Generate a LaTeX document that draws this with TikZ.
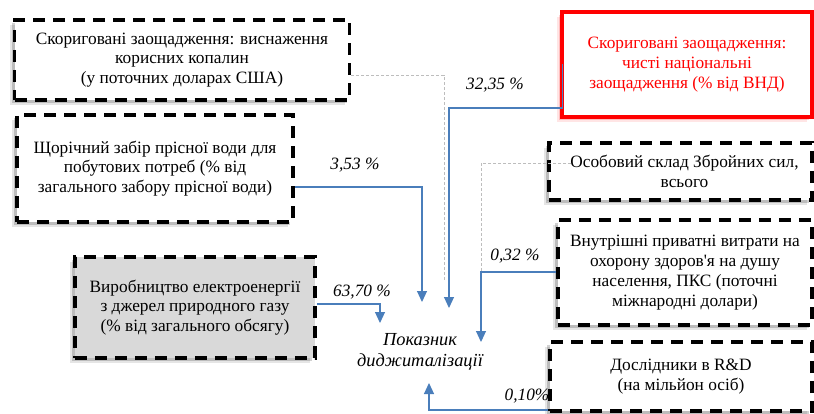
\documentclass[tikz,border=0pt]{standalone}
\usepackage{fontspec}
\setmainfont{Liberation Serif}
\usetikzlibrary{arrows.meta,shadows,calc}
\definecolor{linkblue}{HTML}{4A7EBB}
\definecolor{linkgray}{HTML}{BDBDBD}
\definecolor{boxgray}{HTML}{D9D9D9}
\tikzset{
  softshadow/.style={
    drop shadow={shadow xshift=-5pt, shadow yshift=-5pt, fill=#1, opacity=0.10},
    drop shadow={shadow xshift=-3pt, shadow yshift=-3pt, fill=#1, opacity=0.18}},
  factorbox/.style={draw=black, line width=3.6pt, dash pattern=on 12pt off 8pt,
    fill=white, align=center, inner sep=0pt, text=black,
    font=\fontsize{17.3}{19.8}\selectfont, softshadow=black},
  targetbox/.style={draw=red, line width=3.8pt, fill=white, align=center,
    inner sep=0pt, text=red, font=\fontsize{17.3}{19.8}\selectfont,
    softshadow=red},
  link/.style={draw=linkblue, line width=1.1pt, -{Triangle[width=10pt,length=11pt]}},
  weak/.style={draw=linkgray, line width=0.8pt, dash pattern=on 3pt off 2pt},
  pct/.style={font=\fontsize{17.3}{19.8}\selectfont\itshape, inner sep=0pt}
}
\begin{document}
\begin{tikzpicture}[x=1pt, y=-1pt]
\useasboundingbox (0,0) rectangle (814,414);

% factor boxes
\node[factorbox, minimum width=335pt, minimum height=80pt] (b1) at (182,60)
  {Скориговані заощадження: виснаження\\корисних копалин\\(у поточних доларах США)};
\node[targetbox, minimum width=250pt, minimum height=105pt] (red) at (687,64.5)
  {Скориговані заощадження:\\чисті національні\\заощадження (\% від ВНД)};
\node[factorbox, minimum width=276pt, minimum height=107pt] (b3) at (155,168.5)
  {Щорічний забір прісної води для\\побутових потреб (\% від\\загального забору прісної води)};
\node[factorbox, minimum width=263pt, minimum height=57pt] (b4) at (680.5,171.5)
  {\hspace*{8pt}Особовий склад Збройних сил,\\\hspace*{8pt}всього};
\node[factorbox, minimum width=254pt, minimum height=105pt] (b5) at (685,272.5)
  {Внутрішні приватні витрати на\\охорону здоров\textquotesingle я на душу\\населення, ПКС (поточні\\міжнародні долари)};
\node[factorbox, minimum width=262pt, minimum height=69pt] (b6) at (681,376.5)
  {Дослідники в R\&D\\(на мільйон осіб)};
\node[factorbox, fill=boxgray, minimum width=240pt, minimum height=101pt] (b7) at (195,307.5)
  {Виробництво електроенергії\\з джерел природного газу\\(\% від загального обсягу)};

% central indicator
\node[align=center, font=\fontsize{18.4}{20.5}\selectfont\itshape] (dig) at (420,352)
  {Показник\\диджиталізації};

% end points of the connectors
\coordinate (e1) at (444,282);
\coordinate (e3) at (422,302);
\coordinate (e2) at (449,308);
\coordinate (e4) at (481,300);
\coordinate (e5) at (481,342);
\coordinate (e6) at (429,383);
\coordinate (e7) at (380,323);

% connectors
\draw[weak] (b1.east |- 0,75) -| (e1);
\draw[weak] ([xshift=24pt]b4.west |- 0,163) -| (e4);
\draw[link] (b3.east |- 0,187) -| (e3);
\draw[link] ([xshift=2pt]red.west) -- ([xshift=2pt]red.west |- 0,108) -| (e2);
\draw[link] (b5.west |- 0,272) -| (e5);
\draw[link] (b6.west |- 0,410) -| (e6);
\draw[link] (b7.east |- 0,304) -| (e7);

% weights
\node[pct] (p2) at (495,85) {32,35 \%};
\node[pct] (p3) at (355,165) {3,53 \%};
\node[pct] (p7) at (362,292) {63,70 \%};
\node[pct] (p5) at (515,256) {0,32 \%};
\node[pct] (p6) at (527,396) {0,10\%};
\end{tikzpicture}
\end{document}
